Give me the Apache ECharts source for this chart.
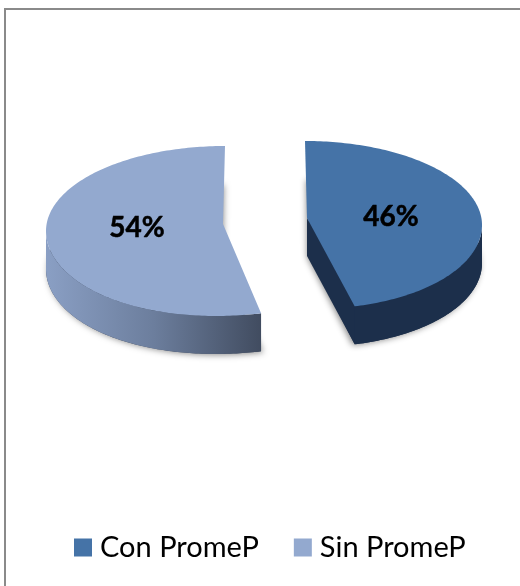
<!DOCTYPE html>
<html><head><meta charset="utf-8">
<style>html,body{margin:0;padding:0;background:#fff}#c{width:520px;height:586px}</style>
<script src="https://cdn.jsdelivr.net/npm/echarts@6/dist/echarts.min.js"></script>
</head><body><div id="c"></div>
<script>
const categories = ['Con PromeP', 'Sin PromeP'];
const values = [46, 54];

const looks = [
  {color:'#4573A7', cx:305, cy:225, rx:177, ry:84, ax:307, ay:218, warp:6, labelX:391, labelY:217, nudge:[1,0], apexDx:2, shadowDx:-2,
   side:[['#1C2F4B',0],['#1C2F4B',1]]},
  {color:'#93A9CF', cx:225, cy:231, rx:179, ry:85, ax:223, ay:224, warp:-9, labelX:137, labelY:228, nudge:[0,-1], apexDx:-2, shadowDx:2,
   side:[['#8A9FC4',0],['#6C7E9D',0.5],['#414C60',1]]}
];
const DEPTH = 38;
const total = values.reduce((a,b)=>a+b,0);
const D = Math.PI/180;

function slicePoint(lk, deg){
  const y = lk.cy - lk.ry*Math.cos(deg*D);
  const s = Math.max(0,(y-lk.cy)/lk.ry);
  return [lk.cx + lk.rx*Math.sin(deg*D) + lk.warp*s*s, y];
}
function arc(lk, a0, a1){
  const pts=[], n=Math.max(2,Math.ceil(Math.abs(a1-a0)));
  for(let i=0;i<=n;i++) pts.push(slicePoint(lk,a0+(a1-a0)*i/n));
  return pts;
}
const down = pts => pts.map(p=>[p[0],p[1]+DEPTH]);

function makeSeries(idx){
  const lk = looks[idx];
  const before = values.slice(0,idx).reduce((a,b)=>a+b,0);
  return {
    type:'custom', name:categories[idx], coordinateSystem:'none',
    itemStyle:{color:lk.color},
    data:[[values[idx]]],
    renderItem(params, api){
      const v = api.value(0);
      const a0 = before/total*360, a1 = (before+v)/total*360;
      const apex=[lk.ax,lk.ay];
      const outline=[apex].concat(arc(lk,a0,a1));
      const fa0=Math.max(a0,90), fa1=Math.min(a1,270);
      const front=arc(lk,fa0,fa1);
      const sideGrad=new echarts.graphic.LinearGradient(0,0,1,0,
        lk.side.map(s=>({offset:s[1],color:s[0]})));
      const body=down([[lk.ax+lk.apexDx,lk.ay]].concat(arc(lk,a0+lk.nudge[0],a1+lk.nudge[1])));
      const children=[
        {type:'polygon',shape:{points:body},
         style:{fill:lk.side[lk.side.length-1][0],shadowBlur:6,shadowColor:'rgba(0,0,0,0.45)',shadowOffsetX:lk.shadowDx,shadowOffsetY:1}},
        {type:'polygon',shape:{points:front.concat(down(front).reverse())},style:{fill:sideGrad}}
      ];
      if(a0<90){
        const e=slicePoint(lk,a1);
        children.push({type:'polygon',shape:{points:[apex,e,[e[0],e[1]+DEPTH],[apex[0],apex[1]+DEPTH]]},style:{fill:lk.side[0][0]}});
      }
      children.push({type:'polygon',shape:{points:outline},style:{fill:lk.color}});
      children.push({type:'text',style:{x:lk.labelX,y:lk.labelY,text:Math.round(v/total*100)+'%',
        fill:'#000',stroke:'#000',lineWidth:0.5,font:'bold 28px Lato',align:'center',verticalAlign:'middle'}});
      return {type:'group',children};
    }
  };
}

const chart = echarts.init(document.getElementById('c'),null,{renderer:'canvas'});
chart.setOption({
  animation:false,
  backgroundColor:'#fff',
  graphic:[
    {type:'line',z:-10,shape:{x1:5,y1:9,x2:520,y2:9},style:{stroke:'#8a8a8a',lineWidth:2}},
    {type:'line',z:-10,shape:{x1:5,y1:8,x2:5,y2:586},style:{stroke:'#8a8a8a',lineWidth:2}}
  ],
  legend:{data:categories,left:74,top:533,padding:0,icon:'rect',itemWidth:18,itemHeight:18,itemGap:35,
    textStyle:{fontFamily:'Lato',fontSize:29,color:'#000',padding:[2,0,0,3]}},
  series:categories.map((c,i)=>makeSeries(i))
});
</script></body></html>
